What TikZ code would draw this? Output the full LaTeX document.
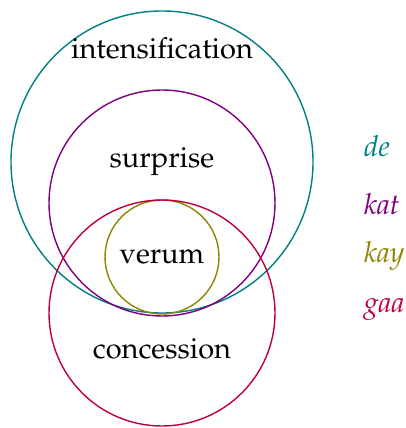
\documentclass[tikz,border=0pt]{standalone}
\usepackage[T1]{fontenc}
\usepackage{mathpazo}
\usepackage{tikz}
\usepackage{xcolor}

\begin{document}
\begin{tikzpicture}[x=0.02cm, y=-0.02cm, font=\fontsize{16.5}{19}\selectfont,
  ring/.style = {thick},
  tag/.style = {anchor=base west, font=\fontsize{16.5}{19}\selectfont\itshape}]
  \useasboundingbox (0,0) rectangle (405,428);
  % the four readings as nested circles
  \draw[ring, teal] (162,162) circle (151);
  \draw[ring, violet] (162,203) circle (113);
  \draw[ring, olive] (162,257) circle (57);
  \draw[ring, purple] (162,313) circle (113);
  \node[anchor=base] (intens) at (162,59) {intensification};
  \node[anchor=base] (surpr) at (162,168) {surprise};
  \node[anchor=base] (verum) at (162,263) {verum};
  \node[anchor=base] (conc) at (162,358) {concession};
  % particles, coloured like their circle
  \node[tag, teal] (de) at (358,157) {de};
  \node[tag, violet] (kat) at (358,215) {kat};
  \node[tag, olive] (kay) at (358,262) {kay};
  \node[tag, purple] (gaa) at (358,312) {gaa};
\end{tikzpicture}
\end{document}
